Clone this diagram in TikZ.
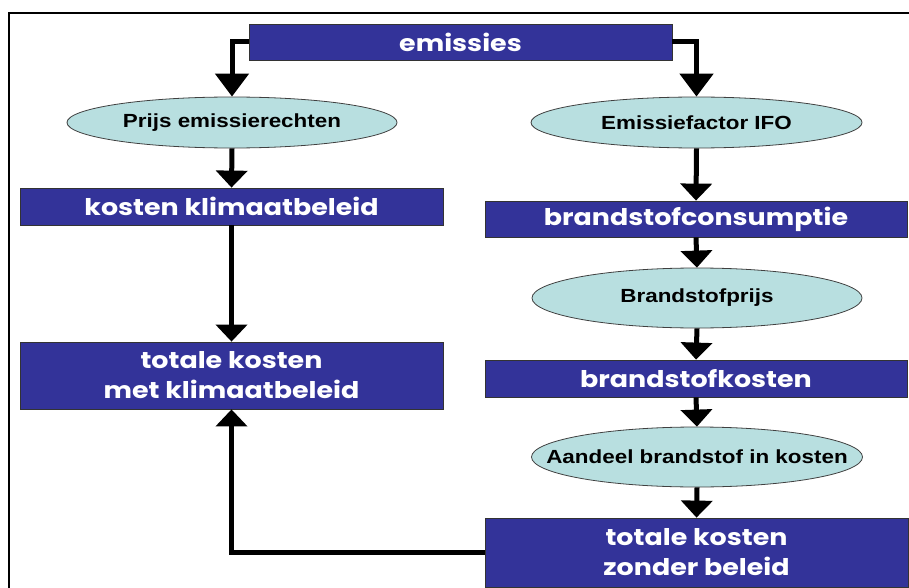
\documentclass[tikz,border=0pt]{standalone}
\usepackage{fontspec}
\usetikzlibrary{arrows.meta,shapes.geometric}
\newfontfamily\boxfont{Poppins}[FakeStretch=1.17]
\newfontfamily\ellfont{Liberation Sans}[FakeStretch=1.18]
\definecolor{boxblue}{HTML}{333399}
\definecolor{ellcyan}{HTML}{B8DFE0}
\newcommand{\elltext}[1]{\makebox[0pt]{#1}}
\begin{document}
\begin{tikzpicture}[x=1pt,y=-1pt,
  bluebox/.style={rectangle,draw=black!80,line width=0.8pt,fill=boxblue,
    text=white,font=\boxfont\bfseries\fontsize{23}{30}\selectfont,
    align=center,inner sep=0pt},
  ellnode/.style={ellipse,draw=black!75,line width=0.8pt,fill=ellcyan,
    text=black,font=\ellfont\bfseries\fontsize{19}{23}\selectfont,inner sep=0pt},
  conn/.style={line width=5pt,draw=black,
    -{Triangle[length=17pt,width=31pt]}},
  topconn/.style={line width=5pt,draw=black,
    -{Triangle[length=23pt,width=33pt]}}]
\useasboundingbox (0,0) rectangle (909,588);
% frame lines
\draw[line width=2.5pt] (9,588) -- (9,13) -- (909,13);

% top node
\node[bluebox,minimum width=423pt,minimum height=36pt] (em) at (460.5,42) {emissies};

% left column
\node[ellnode,minimum width=330pt,minimum height=51pt] (pe) at (232,122.5) {\elltext{Prijs emissierechten}};
\node[bluebox,minimum width=423pt,minimum height=37pt] (kk) at (231.5,206.5) {kosten klimaatbeleid};
\node[bluebox,minimum width=423pt,minimum height=67pt] (tm) at (231.5,375.5) {totale kosten\\met klimaatbeleid};

% right column
\node[ellnode,minimum width=331pt,minimum height=51pt] (ef) at (696.5,122.5) {\elltext{Emissiefactor IFO}};
\node[bluebox,minimum width=422pt,minimum height=36pt] (bc) at (696,219) {brandstofconsumptie};
\node[ellnode,minimum width=330pt,minimum height=60pt] (bp) at (697,298) {\elltext{Brandstofprijs}};
\node[bluebox,minimum width=422pt,minimum height=37pt] (bk) at (696,378.5) {brandstofkosten};
\node[ellnode,minimum width=331pt,minimum height=60pt] (ab) at (697,457) {\elltext{Aandeel brandstof in kosten}};
\node[bluebox,minimum width=423pt,minimum height=69pt] (tz) at (696.5,552.5) {totale kosten\\zonder beleid};

% connectors
\draw[topconn] (em.west) -| (pe.north);
\draw[topconn] (em.east) -| (ef.north);
\draw[conn] (pe.south) -- (kk.north);
\draw[conn] (kk.south) -- (tm.north);
\draw[conn] (ef.south) -- (bc.north);
\draw[conn] (bc.south) -- (bp.north);
\draw[conn] (bp.south) -- (bk.north);
\draw[conn] (bk.south) -- (ab.north);
\draw[conn] (ab.south) -- (tz.north);
\draw[conn] (tz.west) -| (tm.south);
\end{tikzpicture}
\end{document}
